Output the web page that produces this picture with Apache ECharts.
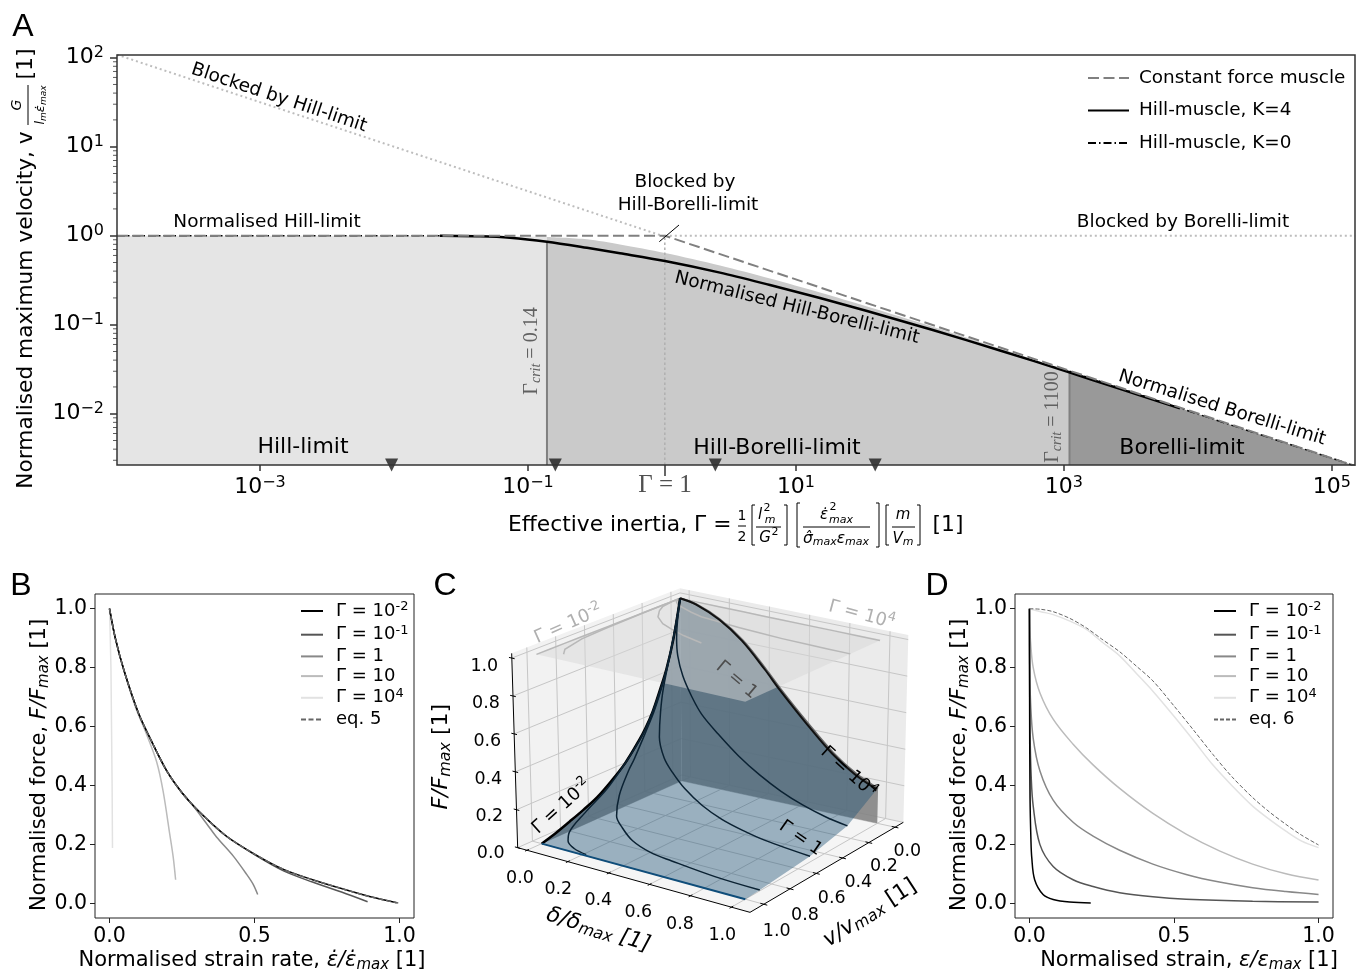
<!DOCTYPE html>
<html><head><meta charset="utf-8">
<script src="https://cdn.jsdelivr.net/npm/echarts@6/dist/echarts.min.js"></script>
<style>html,body{margin:0;background:#fff}#c{width:1366px;height:973px}</style></head>
<body><div id="c"></div>
<script>
// ---------- Panel A data ----------
const aXTicks=[1e-3,1e-1,1e1,1e3,1e5];
const aYTicks=[1e-2,1e-1,1,1e1,1e2];
const aYMinor=[3e-3,4e-3,5e-3,6e-3,7e-3,8e-3,9e-3,2e-2,3e-2,4e-2,5e-2,6e-2,7e-2,8e-2,9e-2,.2,.3,.4,.5,.6,.7,.8,.9,2,3,4,5,6,7,8,9,20,30,40,50,60,70,80,90];
const constG=[8.57e-5,1.05,1.49e5];
const constV=[1,1,0.00259];
const blockHG=[8.57e-5,1.05];
const blockHV=[108,0.976];
const blockBG=[1.05,1.49e5];
const blockBV=[1,1];
const k4G=[0.022,0.0438,0.0734,0.1386,0.2756,0.486,1.053,2.71,6.4,15.1,33.9,105,333,1052,2618,7345];
const k4V=[1,0.987,0.951,0.856,0.731,0.635,0.52,0.385,0.279,0.1995,0.1426,0.0871,0.0514,0.0298,0.019,0.0115];
const k0G=[8.57e-5,0.0438,0.087,0.1386,0.2756,0.486,1.053,2.71,6.4,15.1,33.9,105,333,1052,1100,1e4,1.49e5];
const k0V=[1,1,0.987,0.967,0.911,0.796,0.639,0.4626,0.3305,0.23,0.16,0.0949,0.054,0.0306,0.03,0.0099,0.00259];
const critG=[0.1386,1100];
const critTop=[0.856,0.0295];
const unityG=1.05;
const triangleG=[0.0096,0.16,2.5,39];
// ---------- Panel B data (strain rate, force) ----------
const eq5V=[0,0.02,0.05,0.1,0.15,0.2,0.25,0.3,0.4,0.5,0.6,0.7,0.8,0.9,1];
const eq5F=[1,0.9,0.79,0.645,0.54,0.445,0.375,0.32,0.23,0.167,0.115,0.08,0.05,0.022,0];
const bG2V=[0,0.02,0.05,0.1,0.15,0.2,0.25,0.3,0.4,0.5,0.6,0.7,0.8,0.9,0.99];
const bG2F=[1,0.9,0.79,0.645,0.54,0.445,0.375,0.32,0.23,0.167,0.115,0.08,0.05,0.022,0.002];
const bG1V=[0,0.02,0.05,0.1,0.15,0.2,0.25,0.3,0.4,0.5,0.6,0.7,0.8,0.89];
const bG1F=[1,0.9,0.79,0.645,0.54,0.445,0.375,0.32,0.23,0.165,0.11,0.072,0.038,0.005];
const bG0V=[0,0.02,0.05,0.1,0.15,0.2,0.25,0.277,0.335,0.369,0.427,0.473,0.495,0.511];
const bG0F=[1,0.9,0.79,0.645,0.54,0.445,0.375,0.345,0.27,0.225,0.16,0.098,0.065,0.03];
const bG10V=[0,0.02,0.05,0.09,0.128,0.162,0.185,0.208,0.22,0.228];
const bG10F=[1,0.9,0.79,0.665,0.573,0.482,0.38,0.233,0.154,0.08];
const bG4V=[0,0.002,0.005,0.007,0.009,0.0103];
const bG4F=[1,0.93,0.8,0.6,0.4,0.188];
// ---------- Panel D data (strain, force) ----------
const eq6D=[0,0.04,0.082,0.14,0.197,0.25,0.312,0.37,0.427,0.5,0.57,0.634,0.7,0.772,0.83,0.887,0.94,1];
const eq6F=[1,0.998,0.99,0.967,0.935,0.897,0.854,0.805,0.755,0.67,0.585,0.506,0.43,0.359,0.31,0.268,0.232,0.198];
const dG4D=[0,0.04,0.082,0.14,0.197,0.25,0.312,0.37,0.427,0.5,0.57,0.634,0.7,0.772,0.83,0.887,0.94,1];
const dG4F=[1,0.99,0.98,0.958,0.93,0.888,0.84,0.78,0.72,0.635,0.55,0.47,0.4,0.33,0.285,0.245,0.212,0.189];
const dG10D=[0,0.001,0.004,0.013,0.036,0.082,0.151,0.22,0.312,0.427,0.542,0.657,0.772,0.887,1];
const dG10F=[1,0.95,0.885,0.8,0.715,0.625,0.54,0.47,0.39,0.305,0.235,0.178,0.133,0.1,0.079];
const dG0D=[0,0.001,0.004,0.013,0.036,0.082,0.151,0.22,0.312,0.427,0.542,0.657,0.772,0.887,1];
const dG0F=[1,0.8,0.68,0.56,0.45,0.35,0.275,0.228,0.18,0.133,0.098,0.072,0.053,0.04,0.03];
const dG1D=[0,0.0005,0.002,0.006,0.013,0.036,0.082,0.151,0.22,0.312,0.427,0.542,0.772,1];
const dG1F=[1,0.8,0.585,0.43,0.33,0.2,0.125,0.08,0.057,0.036,0.022,0.014,0.007,0.004];
const dG2D=[0,0.0005,0.002,0.005,0.008,0.018,0.047,0.082,0.139,0.212];
const dG2F=[1,0.7,0.36,0.22,0.155,0.08,0.03,0.013,0.004,0.001];
// ---------- Panel C data (delta, velocity, force along each curve) ----------
const cEdgeD=[0,0,0,0,0,0,0,0,0,0,0,0,0,0];
const cEdgeV=[0,0.05,0.1,0.15,0.2,0.25,0.3,0.4,0.5,0.6,0.7,0.8,0.9,1];
const cEdgeF=[1,0.79,0.645,0.54,0.445,0.375,0.32,0.23,0.167,0.115,0.08,0.05,0.022,0];
const cG2D=[0,0.0005,0.001,0.002,0.008,0.018,0.047,0.082,0.139,0.212];
const cG2V=[0,0.05,0.12,0.265,0.52,0.71,0.87,0.93,0.97,0.99];
const cG2F=[1,0.8,0.6,0.358,0.155,0.076,0.03,0.014,0.005,0.001];
const cG1D=[0,0.0003,0.0006,0.002,0.005,0.013,0.028,0.036,0.082,0.151,0.22,0.312,0.427,0.542,0.772,1];
const cG1V=[0,0.035,0.08,0.125,0.195,0.27,0.375,0.425,0.56,0.68,0.74,0.8,0.84,0.855,0.88,0.89];
const cG1F=[1,0.85,0.7,0.585,0.45,0.358,0.25,0.21,0.132,0.081,0.059,0.036,0.021,0.014,0.006,0.004];
const cG0D=[0,0.001,0.013,0.036,0.082,0.151,0.22,0.312,0.427,0.542,0.657,0.772,1];
const cG0V=[0,0.05,0.14,0.195,0.27,0.335,0.375,0.42,0.46,0.485,0.497,0.505,0.51];
const cG0F=[1,0.8,0.56,0.45,0.35,0.275,0.228,0.18,0.133,0.098,0.072,0.053,0.03];
const cG10D=[0,0.013,0.036,0.082,0.151,0.22,0.312,0.427,0.542,0.657,0.772,0.887,1];
const cG10V=[0,0.045,0.07,0.1,0.135,0.163,0.177,0.195,0.208,0.218,0.223,0.226,0.228];
const cG10F=[1,0.8,0.715,0.625,0.54,0.47,0.39,0.305,0.235,0.178,0.133,0.1,0.079];
const cG4D=[0,0.082,0.197,0.312,0.427,0.5,0.634,0.772,0.887,1];
const cG4V=[0,0.003,0.005,0.006,0.007,0.008,0.009,0.0095,0.01,0.0105];
const cG4F=[1,0.985,0.93,0.84,0.71,0.62,0.47,0.33,0.245,0.189];
const cTicks=[0,0.2,0.4,0.6,0.8,1];
const tickNames=['0.0','0.2','0.4','0.6','0.8','1.0'];

// ---------- helpers ----------
const zip=(a,b)=>a.map((x,i)=>[x,b[i]]);
const SANS='"DejaVu Sans"', SERIF='"Liberation Serif","DejaVu Serif"', ARIAL='"Liberation Sans"';
const richFor=(sz,fam=SANS,color)=>({
  s:{fontSize:Math.round(sz*.72),fontFamily:fam,padding:[0,0,Math.round(sz*.62),0],fill:color,color},
  b:{fontSize:Math.round(sz*.72),fontFamily:fam,fontStyle:'italic',padding:[Math.round(sz*.38),0,0,0],fill:color,color},
  i:{fontSize:sz,fontFamily:fam,fontStyle:'italic',fill:color,color},
  n:{fontSize:sz,fontFamily:fam,fill:color,color}
});
const g=[];
function T(text,x,y,sz,o={}){
  const col=o.color||'#000', fam=o.fam||SANS;
  g.push({type:'text',silent:true,x,y,rotation:(o.rot||0)*Math.PI/180,z:50,
    style:{text,fontSize:sz,fontFamily:fam,fontStyle:o.italic?'italic':'normal',fill:col,
      align:o.align||'center',verticalAlign:'middle',rich:richFor(sz,fam,col)}});
}
const GL=(x1,y1,x2,y2,c='#000',w=1)=>g.push({type:'line',silent:true,z:49,shape:{x1,y1,x2,y2},style:{stroke:c,lineWidth:w}});
const FR=(x,y,w,h,c,lw)=>g.push({type:'rect',silent:true,z:45,shape:{x,y,width:w,height:h},style:{fill:'none',stroke:c,lineWidth:lw}});
const BR=(x,y1,y2,dir)=>g.push({type:'polyline',silent:true,z:49,shape:{points:[[x+dir*3,y1],[x,y1],[x,y2],[x+dir*3,y2]]},style:{stroke:'#000',lineWidth:1,fill:'none'}});

// ---------- Panel letters and Panel A text ----------
T('A',23,27,32,{fam:ARIAL}); T('B',21,586,32,{fam:ARIAL});
T('C',445,586,32,{fam:ARIAL}); T('D',937,586,32,{fam:ARIAL});
T('Blocked by Hill-limit',279,98,18.5,{rot:-18.4});
T('Normalised Hill-limit',267,222.5,18.5);
T('Blocked by Borelli-limit',1183,222.5,18.5);
T('Blocked by',685,182,18.5); T('Hill-Borelli-limit',688,205,18.5);
GL(659.3,241.7,679,225,'#000',1);
T('Normalised Hill-Borelli-limit',797,308,18.5,{rot:-14});
T('Normalised Borelli-limit',1222,408,18.5,{rot:-17.3});
T('Hill-limit',303,447,22); T('Hill-Borelli-limit',777,448,22); T('Borelli-limit',1182,448,22);
T('Γ{b|crit} = 0.14',532,351,20,{rot:90,fam:SERIF,color:'#606060'});
T('Γ{b|crit} = 1100',1053,417,20,{rot:90,fam:SERIF,color:'#606060'});
T('Γ = 1',665,485,25,{fam:SERIF,color:'#505050'});
GL(665,465,665,476,'#333',1.5);
// y label A
T('Normalised maximum velocity, v',26,310,21.7,{rot:90});
T('G',17,105,14,{rot:90,italic:true});
GL(28,85,28,125,'#000',1);
T('l{b|m}ε̇{b|max}',41,105,13,{rot:90,italic:true});
T('[1]',26,64,22,{rot:90});
// x label A
T('Effective inertia, Γ =',508,525,21.8,{align:'left'});
T('1',742,516,14); GL(738,526,746,526); T('2',742,537,14);
BR(752,505,545,1);
T('l',760,515,15,{italic:true}); T('2',767,508,11); T('m',770,520,11,{italic:true});
GL(756,527,781,527); T('G',765,538,15,{italic:true}); T('2',775,532,11); BR(787,505,545,-1);
BR(797,503,547,1);
T('ε̇',824,515,15,{italic:true}); T('2',833,507,11); T('max',841,520,11,{italic:true});
GL(803,527,870,527); T('σ̂{b|max}ε{b|max}',836,539,15.5,{italic:true}); BR(879,503,547,-1);
BR(886,505,545,1); T('m',903,515,15,{italic:true}); GL(892,527,915,527); T('V{b|m}',903,539,15,{italic:true}); BR(920,505,545,-1);
T('[1]',948,525,21.8);
// B / D labels
T('Normalised force, {i|F/F}{b|max} [1]',40,765,21,{rot:90});
T('Normalised strain rate,{i| ε̇/ε̇}{b|max} [1]',252,961,21);
T('Normalised force, {i|F/F}{b|max} [1]',960,765,21,{rot:90});
T('Normalised strain, {i|ε/ε}{b|max} [1]',1189,961,21);
FR(117,55,1238,410,'#333',1.5); FR(95,594,319,324,'#222',1); FR(1015,594,318,324,'#222',1);

// ---------- Panel C: projection of the 3D box to a plane ----------
const L=[263,848],Fr=[960,1042],B=[755,630],R=[1420,772],LT=[245,265],FT=[960,428],BT=[750,70],RT=[1435,210];
const bil=(a,b,c,d,u,w)=>[0,1].map(k=>(1-u)*(1-w)*a[k]+u*(1-w)*b[k]+(1-u)*w*c[k]+u*w*d[k]);
function Puw(u,w,t){const f=bil(L,Fr,B,R,u,w),h=bil(LT,FT,BT,RT,u,w);return [f[0]+(h[0]-f[0])*t,f[1]+(h[1]-f[1])*t];}
const Pr=(d,v,F)=>Puw(.04+.88*d,.946-.856*v,F/1.025);
const curve=(D,V,F)=>D.map((d,i)=>Pr(d,V[i],F[i]));
const edgeC=curve(cEdgeD,cEdgeV,cEdgeF), g4C=curve(cG4D,cG4V,cG4F), wallC=curve(cG4D,cG4D.map(()=>0),cG4F);
const polys=[];
const poly=(pts,fill)=>polys.push({t:'p',pts,fill});
const seg=(pts,stroke,w)=>polys.push({t:'l',pts,stroke,w});
poly([L,Fr,R,B],'#f5f5f5'); poly([L,B,BT,LT],'#f2f2f2'); poly([B,R,RT,BT],'#ebebeb');
cTicks.forEach(q=>{
  const u=.04+.88*q,w=.946-.856*q,t=q/1.025,c='#c6c6c6';
  seg([Puw(u,0,0),Puw(u,1,0),Puw(u,1,1)],c,1);
  seg([Puw(0,w,0),Puw(1,w,0)],c,1); seg([Puw(0,w,0),Puw(0,w,1)],c,1);
  seg([Puw(0,0,t),Puw(0,1,t),Puw(1,1,t)],c,1);
});
poly(wallC.concat([Pr(1,0,0),Pr(0,0,0)]),'rgba(130,130,130,.88)');
poly(edgeC.concat([Pr(0,0,0)]),'rgba(130,130,130,.88)');
const sheetEndV=[0.89,0.51,0.228],sheetEndF=[0.004,0.03,0.079];
poly(edgeC.concat([Pr(1,1,0)],sheetEndV.map((v,i)=>Pr(1,v,sheetEndF[i])),g4C.slice().reverse()),'rgba(35,85,120,.43)');
poly([Pr(0,1,1),Pr(1,1,1),Pr(1,0,1),Pr(0,0,1)],'rgba(215,215,215,.5)');
[[cG2D.slice(0,8),cG2V],[cG0D.slice(0,9),cG0V],[cG10D,cG10V],[cG4D,cG4V],[cEdgeD,cEdgeV]].forEach(a=>{
  seg(a[0].map((d,i)=>Pr(d,a[1][i],1)),'#b8b8b8',1.5);
});
seg([L,Fr],'#000',1); seg([Fr,R],'#000',1); seg([L,LT],'#000',1);
cTicks.forEach(q=>{
  const u=.04+.88*q,w=.946-.856*q,t=q/1.025;
  seg([Puw(u,.012,0),Puw(u,-.012,0)],'#000',1);
  seg([Puw(.985,w,0),Puw(1.015,w,0)],'#000',1);
  seg([Puw(.012,0,t),Puw(-.012,0,t)],'#000',1);
});
const zt=(txt,zx,zy,sz,o)=>T(txt,430+zx/3,565+zy/3,sz,o);
tickNames.forEach((s,i)=>{
  zt(s,[270,385,505,625,750,877][i],[940,972,1007,1042,1077,1112][i],17.5);
  zt(s,[1432,1362,1285,1205,1125,1040][i],[860,905,952,1000,1050,1100][i],17.5);
  zt(s,[182,178,175,172,168,163][i],[865,755,642,530,415,303][i],17.5);
});
zt('{i|δ/δ}{b|max} {i|[1]}',505,1095,22,{rot:-17});
zt('{i|v/v}{b|max} [1]',1320,1045,22,{rot:33});
zt('{i|F/F}{b|max} [1]',35,575,22,{rot:90});
zt('Γ = 10{s|-2}',395,725,18,{rot:42});
zt('Γ = 10{s|-2}',415,178,18,{rot:24,color:'#b0b0b0'});
zt('Γ = 10{s|4}',1295,150,18,{rot:-15,color:'#b0b0b0'});
zt('Γ = 1',920,345,18,{rot:-40,color:'#4d4d4d'});
zt('Γ = 10{s|4}',1255,622,18,{rot:-42});
zt('Γ = 1',1112,820,18,{rot:-35});

// ---------- chart ----------
const logTick=e=>'10{s|'+(e<0?'−':'')+Math.abs(e)+'}';
const decTick=v=>v.toFixed(1);
const tickStyle={color:'#333',width:1.5};
const unitAxis=(idx,ticks)=>({type:'value',gridIndex:idx,min:-0.05,max:1.05,axisLine:{show:false,onZero:false},splitLine:{show:false},
  axisTick:{customValues:ticks,length:5,lineStyle:{color:'#222',width:1}},
  axisLabel:{customValues:ticks,fontSize:20.5,fontFamily:SANS,color:'#000',margin:8,formatter:decTick}});
const grey=['#000','#555','#888','#bbb','#e2e2e2'];
const names=['Γ = 10-2','Γ = 10-1','Γ = 1','Γ = 10','Γ = 104'];
const label={'Γ = 10-2':'{n|Γ = 10}{s|-2}','Γ = 10-1':'{n|Γ = 10}{s|-1}','Γ = 1':'{n|Γ = 1}','Γ = 10':'{n|Γ = 10}','Γ = 104':'{n|Γ = 10}{s|4}','eq. 5':'{n|eq. 5}','eq. 6':'{n|eq. 6}'};
const ln=(name,x,y,data,o={})=>Object.assign({name,type:'line',xAxisIndex:x,yAxisIndex:y,data,showSymbol:false,symbol:'none',silent:true,animation:false,
  lineStyle:{color:o.color||'#000',width:o.w||1.5,type:o.dash||'solid'},smooth:o.smooth||false,z:o.z||3,itemStyle:{color:o.color||'#000'}},o.extra||{});
const area=(data,color,smooth)=>({type:'line',xAxisIndex:0,yAxisIndex:0,data,showSymbol:false,symbol:'none',silent:true,animation:false,z:1,smooth:smooth||false,
  lineStyle:{width:0},itemStyle:{color},areaStyle:{color,opacity:1,origin:'start'}});
const k0=zip(k0G,k0V);
const reg1=k0.filter(p=>p[0]<=critG[0]), reg2=k0.filter(p=>p[0]>=critG[0]&&p[0]<=critG[1]), reg3=k0.filter(p=>p[0]>=critG[1]);
const yBottom=10**-2.576, xLeft=10**-4.067;
const series=[
  area(reg1,'#e5e5e5'),area(reg2,'#cacaca',.3),area(reg3,'#999999'),
  ln('',0,0,zip(blockHG,blockHV),{color:'#bdbdbd',w:2,dash:[2,3]}),
  ln('',0,0,zip(blockBG,blockBV),{color:'#bdbdbd',w:2,dash:[2,3]}),
  ln('',0,0,[[critG[0],yBottom],[critG[0],critTop[0]]],{color:'#808080',w:2}),
  ln('',0,0,[[critG[1],yBottom],[critG[1],critTop[1]]],{color:'#808080',w:2}),
  ln('',0,0,[[unityG,yBottom],[unityG,1]],{color:'#b0b0b0',w:1.5,dash:[2.5,2.5]}),
  ln('Hill-muscle, K=0',0,0,k0.filter(p=>p[0]>=critG[1]),{color:'#000',w:1.5,dash:[8,3,1.5,3],z:4}),
  ln('',0,0,k0.filter(p=>p[0]<=0.0438),{color:'#000',w:1.5,dash:[8,3,1.5,3],z:4}),
  ln('Hill-muscle, K=4',0,0,zip(k4G,k4V),{color:'#000',w:2.5,z:4,smooth:.3}),
  ln('Constant force muscle',0,0,zip(constG,constV),{color:'#808080',w:2,dash:[11,4.5],z:5}),
  {type:'scatter',xAxisIndex:0,yAxisIndex:0,data:triangleG.map(x=>[x,yBottom]),symbol:'triangle',symbolRotate:180,symbolSize:13,clip:false,silent:true,animation:false,z:8,itemStyle:{color:'#1a1a1a'}},
  {type:'scatter',xAxisIndex:0,yAxisIndex:0,data:aYMinor.map(y=>[xLeft,y]),symbol:'rect',symbolSize:[4,1],symbolOffset:[-2,0],clip:false,silent:true,animation:false,z:8,itemStyle:{color:'#333'}},
  // B
  ln('eq. 5',1,1,zip(eq5V,eq5F),{color:'#666',w:1.5,dash:[5,2.5],smooth:.3,z:4}),
  ln(names[4],1,1,zip(bG4V,bG4F),{color:grey[4]}),
  ln(names[3],1,1,zip(bG10V,bG10F),{color:grey[3],smooth:.3}),
  ln(names[2],1,1,zip(bG0V,bG0F),{color:grey[2],smooth:.3}),
  ln(names[1],1,1,zip(bG1V,bG1F),{color:grey[1],smooth:.3}),
  ln(names[0],1,1,zip(bG2V,bG2F),{color:grey[0],smooth:.3}),
  // D
  ln('eq. 6',2,2,zip(eq6D,eq6F),{color:'#666',w:1,dash:[4,2],smooth:.3,z:4}),
  ln(names[4],2,2,zip(dG4D,dG4F),{color:grey[4],smooth:.3}),
  ln(names[3],2,2,zip(dG10D,dG10F),{color:grey[3],smooth:.35}),
  ln(names[2],2,2,zip(dG0D,dG0F),{color:grey[2],smooth:.35}),
  ln(names[1],2,2,zip(dG1D,dG1F),{color:grey[1],smooth:.35}),
  ln(names[0],2,2,zip(dG2D,dG2F),{color:grey[0],smooth:.35}),
  // C
  {type:'custom',xAxisIndex:3,yAxisIndex:3,data:[[0,0]],silent:true,animation:false,clip:false,z:2,
   renderItem:(p,api)=>({type:'group',children:polys.map(o=>o.t==='p'
     ?{type:'polygon',shape:{points:o.pts.map(q=>api.coord(q))},style:{fill:o.fill,stroke:'none'}}
     :{type:'polyline',shape:{points:o.pts.map(q=>api.coord(q))},style:{stroke:o.stroke,lineWidth:o.w,fill:'none'}})})},
  ...[[wallC,'#6a6a6a',2],[edgeC,'#000',2.5],[curve(cG2D,cG2V,cG2F),'#0b2233',1.5],[curve(cG1D,cG1V,cG1F),'#0b2233',1.5],[curve(cG0D,cG0V,cG0F),'#0b2233',1.5],
      [curve(cG10D,cG10V,cG10F),'#0b2233',1.5],[g4C,'#111',2],[[Pr(0,1,0),Pr(1,1,0)],'#0f4d7a',2]].map(a=>
    ln('',3,3,a[0],{color:a[1],w:a[2],smooth:.35,z:6}))
];
const legRich={n:{fontSize:18,fontFamily:SANS,lineHeight:20,color:'#000'},s:{fontSize:13,fontFamily:SANS,lineHeight:11,padding:[0,0,9,0],color:'#000'}};
const legendBase={selectedMode:false,orient:'vertical',padding:0,itemWidth:22,itemHeight:14,align:'left',itemStyle:{opacity:0},
  textStyle:{fontSize:18,fontFamily:SANS,color:'#000',padding:[0,0,0,8],rich:legRich},formatter:n=>label[n]||n};
const option={
  animation:false,backgroundColor:'#fff',
  grid:[
    {left:117,top:55,width:1238,height:410},
    {left:95,top:594,width:319,height:324},
    {left:1015,top:594,width:318,height:324},
    {left:430,top:565,width:490,height:408}
  ],
  xAxis:[
    {type:'log',gridIndex:0,min:xLeft,max:10**5.172,axisLine:{show:false,onZero:false},splitLine:{show:false},minorTick:{show:false},
     axisTick:{customValues:aXTicks,length:6,lineStyle:tickStyle},
     axisLabel:{customValues:aXTicks,fontSize:22,fontFamily:SANS,color:'#000',margin:10,rich:{s:{fontSize:16,fontFamily:SANS,padding:[0,0,9,0]}},
       formatter:v=>logTick(Math.round(Math.log10(v)))}},
    unitAxis(1,[0,.5,1]),
    unitAxis(2,[0,.5,1]),
    {type:'value',gridIndex:3,min:0,max:1470,show:false}
  ],
  yAxis:[
    {type:'log',gridIndex:0,min:yBottom,max:10**2.03,axisLine:{show:false,onZero:false},splitLine:{show:false},minorTick:{show:false},
     axisTick:{customValues:aYTicks,length:7,lineStyle:tickStyle},
     axisLabel:{customValues:aYTicks,fontSize:22,fontFamily:SANS,color:'#000',margin:13,rich:{s:{fontSize:16,fontFamily:SANS,padding:[0,0,9,0]}},
       formatter:v=>logTick(Math.round(Math.log10(v)))}},
    unitAxis(1,[0,.2,.4,.6,.8,1]),
    unitAxis(2,[0,.2,.4,.6,.8,1]),
    {type:'value',gridIndex:3,min:0,max:1224,inverse:true,show:false}
  ],
  legend:[
    {selectedMode:false,orient:'vertical',padding:0,left:1087,top:69,itemWidth:41,itemHeight:14,itemGap:14.5,align:'left',itemStyle:{opacity:0},
     data:['Constant force muscle','Hill-muscle, K=4','Hill-muscle, K=0'],textStyle:{fontSize:18.4,fontFamily:SANS,color:'#000',padding:[0,0,0,5]}},
    Object.assign({},legendBase,{left:300,top:600,itemGap:1.7,data:names.concat(['eq. 5'])}),
    Object.assign({},legendBase,{left:1213,top:600,itemGap:1.7,data:names.concat(['eq. 6'])})
  ],
  series,
  graphic:{elements:g}
};
const chart=echarts.init(document.getElementById('c'),null,{renderer:'canvas'});
chart.setOption(option);
</script></body></html>
